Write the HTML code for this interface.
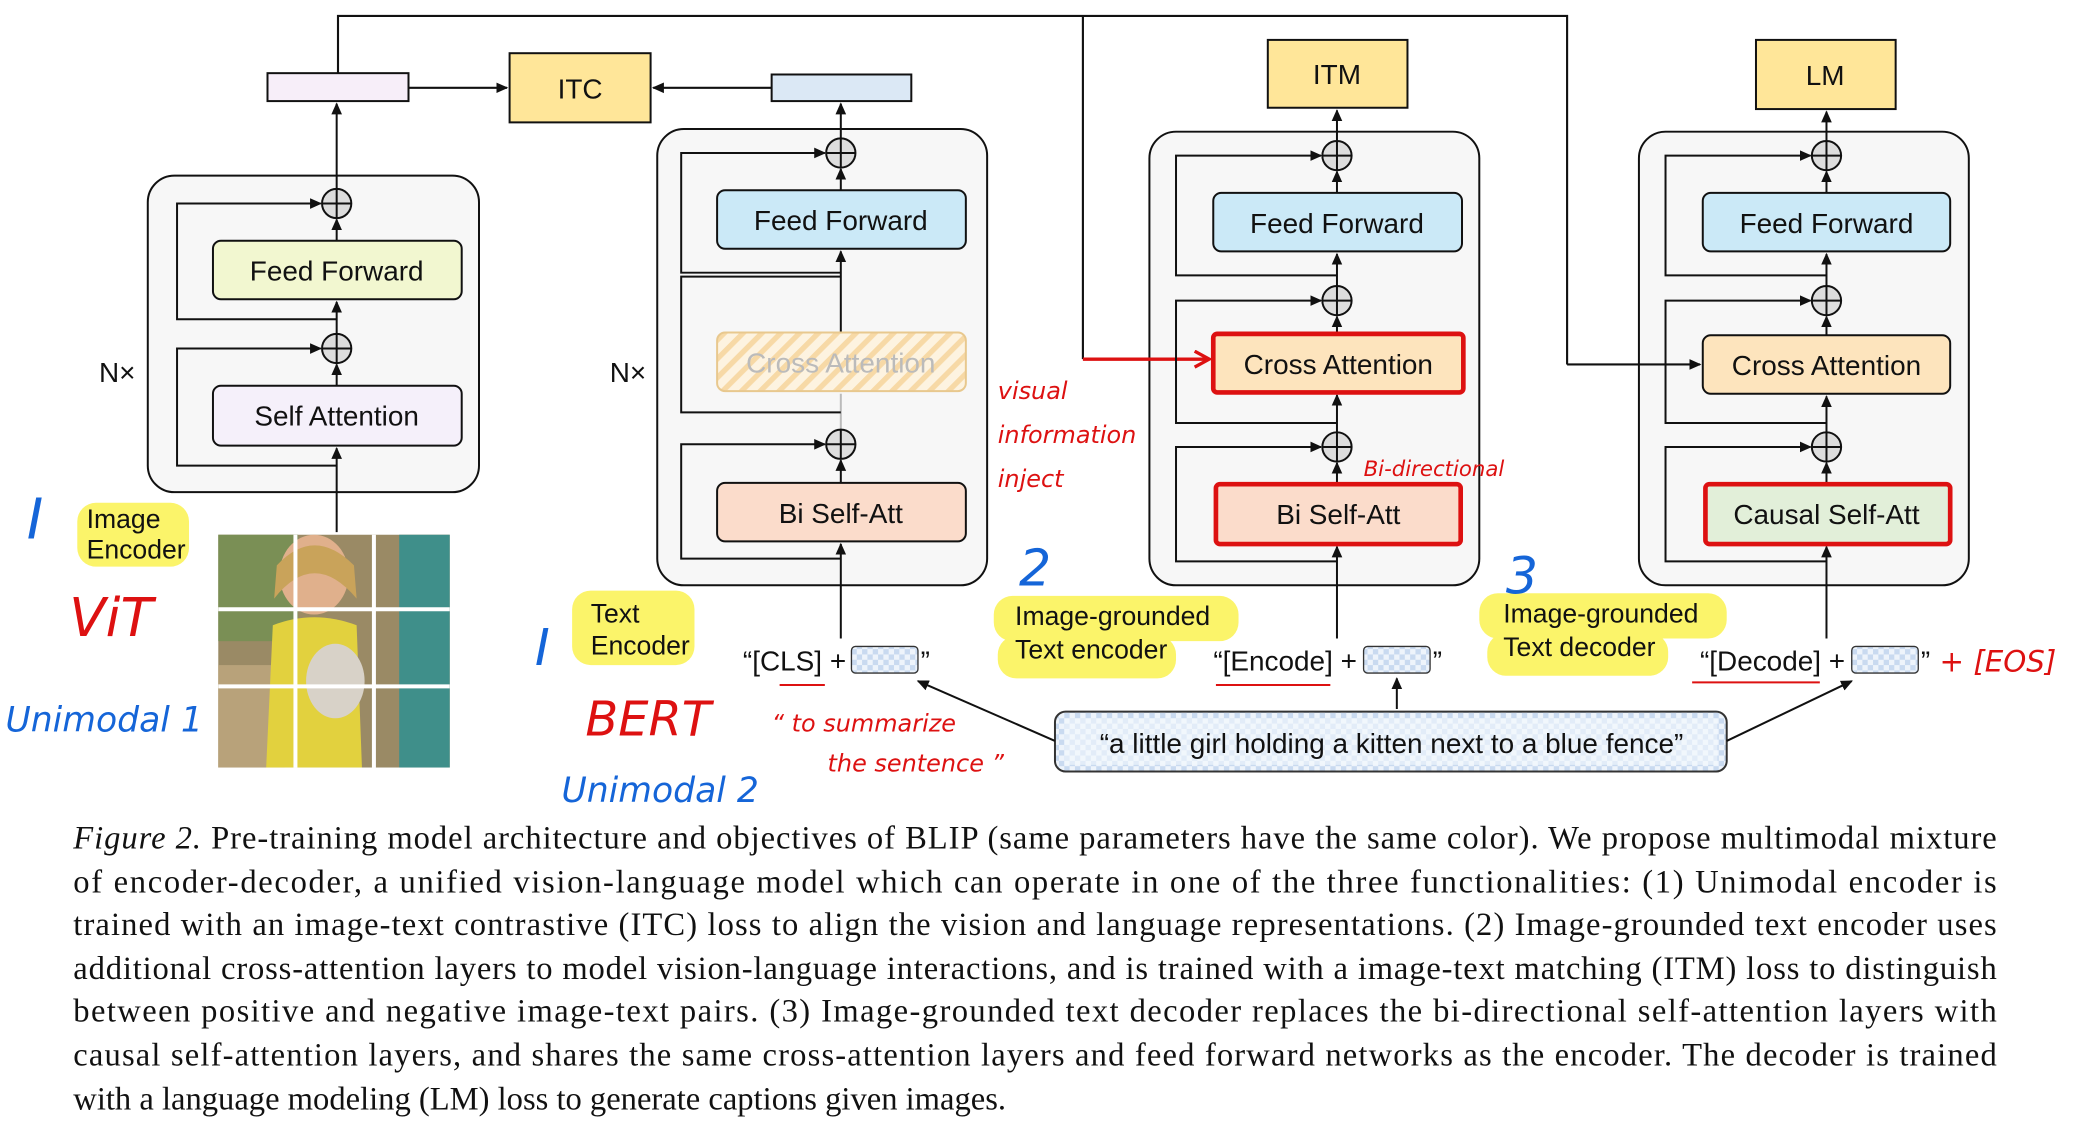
<!DOCTYPE html>
<html><head><meta charset="utf-8"><style>
html,body{margin:0;padding:0;background:#fff;}
svg{display:block;}
.bx{font-family:"Liberation Sans",sans-serif;font-size:21px;fill:#111;text-anchor:middle;}
.cap{font-family:"Liberation Serif",serif;font-size:24.5px;fill:#111;}
.hl{font-family:"Liberation Sans",sans-serif;font-size:20px;fill:#111;}
.red{font-family:"DejaVu Sans",sans-serif;font-style:italic;fill:#d11;}
.blue{font-family:"DejaVu Sans",sans-serif;font-style:italic;fill:#1565d8;}
</style></head><body>
<svg width="2086" height="1128" viewBox="0 0 1568 848" xmlns="http://www.w3.org/2000/svg">
<defs>
<marker id="a" markerWidth="10" markerHeight="10" refX="8" refY="5" orient="auto" markerUnits="userSpaceOnUse"><path d="M0,1 L9,5 L0,9 z" fill="#111"/></marker>
<marker id="ar" markerWidth="14" markerHeight="14" refX="11" refY="7" orient="auto" markerUnits="userSpaceOnUse"><path d="M1,1 L12,7 L1,13" fill="none" stroke="#d11" stroke-width="2.5"/></marker>
<pattern id="hatch" width="10" height="10" patternUnits="userSpaceOnUse" patternTransform="rotate(45)"><rect width="10" height="10" fill="#fdf3e0"/><rect width="4" height="10" fill="#f7d9a6"/></pattern>
<pattern id="chk" width="8" height="8" patternUnits="userSpaceOnUse"><rect width="8" height="8" fill="#eef4fb"/><rect width="4" height="4" fill="#c9daf0"/><rect x="4" y="4" width="4" height="4" fill="#c9daf0"/></pattern>
</defs>
<rect width="1568" height="848" fill="#fff"/>

<g stroke="#111" stroke-width="1.6" fill="none">
<path d="M254,55 V12 H1178 V274"/>
<path d="M814,12 V270"/>
<path d="M307,66 H381" marker-end="url(#a)"/>
<path d="M580,66 H491" marker-end="url(#a)"/>
</g>

<rect x="201" y="55" width="106" height="21" fill="#f7eef9" stroke="#111" stroke-width="1.5"/>
<rect x="580" y="56" width="105" height="20" fill="#dbe8f5" stroke="#111" stroke-width="1.5"/>
<rect x="383" y="40" width="106" height="52" fill="#ffe699" stroke="#111" stroke-width="1.5"/>
<text class="bx" x="436" y="74">ITC</text>
<rect x="953" y="30" width="105" height="51" fill="#ffe699" stroke="#111" stroke-width="1.5"/>
<text class="bx" x="1005" y="63">ITM</text>
<rect x="1320" y="30" width="105" height="52" fill="#ffe699" stroke="#111" stroke-width="1.5"/>
<text class="bx" x="1372" y="64">LM</text>

<g fill="#f7f7f7" stroke="#111" stroke-width="1.5">
<rect x="111" y="132" width="249" height="238" rx="20"/>
<rect x="494" y="97" width="248" height="343" rx="20"/>
<rect x="864" y="99" width="248" height="341" rx="20"/>
<rect x="1232" y="99" width="248" height="341" rx="20"/>
</g>
<path d="M1178,274 H1278" stroke="#111" stroke-width="1.6" fill="none" marker-end="url(#a)"/>
<path d="M814,270 H908" stroke="#d11" stroke-width="2.5" fill="none" marker-end="url(#ar)"/>
<text class="bx" x="88" y="287">N×</text>
<text class="bx" x="472" y="287">N×</text>

<g stroke="#111" stroke-width="1.5" fill="none">
<path d="M253,400 V337" marker-end="url(#a)"/>
<path d="M253,290 V274" marker-end="url(#a)"/>
<path d="M253,251 V227" marker-end="url(#a)"/>
<path d="M253,181 V165" marker-end="url(#a)"/>
<path d="M253,142 V78" marker-end="url(#a)"/>
<path d="M253,350 H133 V262 H241" marker-end="url(#a)"/>
<path d="M253,240 H133 V153 H241" marker-end="url(#a)"/>
</g>
<rect x="160" y="181" width="187" height="44" rx="6" fill="#f2f7d0" stroke="#111" stroke-width="1.5"/>
<text class="bx" x="253" y="211">Feed Forward</text>
<rect x="160" y="290" width="187" height="45" rx="6" fill="#f5f0fa" stroke="#111" stroke-width="1.5"/>
<text class="bx" x="253" y="320">Self Attention</text>

<g stroke="#111" stroke-width="1.5" fill="none">
<path d="M632,480 V409" marker-end="url(#a)"/>
<path d="M632,363 V346" marker-end="url(#a)"/>
<path d="M632,323 V296" stroke="#bbb"/>
<path d="M632,250 V189" marker-end="url(#a)"/>
<path d="M632,143 V127" marker-end="url(#a)"/>
<path d="M632,104 V78" marker-end="url(#a)"/>
<path d="M632,420 H512 V334 H620" marker-end="url(#a)"/>
<path d="M632,310 H512 V208 H632" />
<path d="M632,205 H512 V115 H620" marker-end="url(#a)"/>
</g>
<rect x="539" y="143" width="187" height="44" rx="6" fill="#cbe9f7" stroke="#111" stroke-width="1.5"/>
<text class="bx" x="632" y="173">Feed Forward</text>
<rect x="539" y="250" width="187" height="44" rx="6" fill="url(#hatch)" stroke="#e8c88e" stroke-width="1.5"/>
<text class="bx" x="632" y="280" style="fill:#bbb">Cross Attention</text>
<rect x="539" y="363" width="187" height="44" rx="6" fill="#fbdccb" stroke="#111" stroke-width="1.5"/>
<text class="bx" x="632" y="393">Bi Self-Att</text>

<g stroke="#111" stroke-width="1.5" fill="none">
<path d="M1005,480 V411" marker-end="url(#a)"/>
<path d="M1005,364 V348" marker-end="url(#a)"/>
<path d="M1005,325 V297" marker-end="url(#a)"/>
<path d="M1005,251 V238" marker-end="url(#a)"/>
<path d="M1005,215 V191" marker-end="url(#a)"/>
<path d="M1005,145 V129" marker-end="url(#a)"/>
<path d="M1005,106 V83" marker-end="url(#a)"/>
<path d="M1005,422 H884 V336 H993" marker-end="url(#a)"/>
<path d="M1005,318 H884 V226 H993" marker-end="url(#a)"/>
<path d="M1005,207 H884 V117 H993" marker-end="url(#a)"/>
</g>
<rect x="912" y="145" width="187" height="44" rx="6" fill="#cbe9f7" stroke="#111" stroke-width="1.5"/>
<text class="bx" x="1005" y="175">Feed Forward</text>
<rect x="912" y="251" width="188" height="44" rx="3" fill="#fde4bd" stroke="#d11" stroke-width="3.5"/>
<text class="bx" x="1006" y="281">Cross Attention</text>
<rect x="914" y="364" width="184" height="45" rx="3" fill="#fbdccb" stroke="#d11" stroke-width="3.5"/>
<text class="bx" x="1006" y="394">Bi Self-Att</text>

<g stroke="#111" stroke-width="1.5" fill="none">
<path d="M1373,480 V411" marker-end="url(#a)"/>
<path d="M1373,364 V348" marker-end="url(#a)"/>
<path d="M1373,325 V298" marker-end="url(#a)"/>
<path d="M1373,252 V238" marker-end="url(#a)"/>
<path d="M1373,215 V191" marker-end="url(#a)"/>
<path d="M1373,145 V129" marker-end="url(#a)"/>
<path d="M1373,106 V84" marker-end="url(#a)"/>
<path d="M1373,422 H1252 V336 H1361" marker-end="url(#a)"/>
<path d="M1373,318 H1252 V226 H1361" marker-end="url(#a)"/>
<path d="M1373,207 H1252 V117 H1361" marker-end="url(#a)"/>
</g>
<rect x="1280" y="145" width="186" height="44" rx="6" fill="#cbe9f7" stroke="#111" stroke-width="1.5"/>
<text class="bx" x="1373" y="175">Feed Forward</text>
<rect x="1280" y="252" width="186" height="44" rx="6" fill="#fde4bd" stroke="#111" stroke-width="1.5"/>
<text class="bx" x="1373" y="282">Cross Attention</text>
<rect x="1282" y="364" width="184" height="45" rx="3" fill="#e2efd9" stroke="#d11" stroke-width="3.5"/>
<text class="bx" x="1373" y="394">Causal Self-Att</text>

<g fill="#ddd" stroke="#111" stroke-width="1.5">
<circle cx="253" cy="153" r="11"/><circle cx="253" cy="262" r="11"/>
<circle cx="632" cy="115" r="11"/><circle cx="632" cy="334" r="11"/>
<circle cx="1005" cy="117" r="11"/><circle cx="1005" cy="226" r="11"/><circle cx="1005" cy="336" r="11"/>
<circle cx="1373" cy="117" r="11"/><circle cx="1373" cy="226" r="11"/><circle cx="1373" cy="336" r="11"/>
</g>
<g stroke="#111" stroke-width="1.5">
<path d="M242,153h22M253,142v22M242,262h22M253,251v22"/>
<path d="M621,115h22M632,104v22M621,334h22M632,323v22"/>
<path d="M994,117h22M1005,106v22M994,226h22M1005,215v22M994,336h22M1005,325v22"/>
<path d="M1362,117h22M1373,106v22M1362,226h22M1373,215v22M1362,336h22M1373,325v22"/>
</g>

<g>
<rect x="164" y="402" width="174" height="175" fill="#9a8a65"/>
<rect x="164" y="402" width="60" height="80" fill="#7a8f55"/>
<rect x="300" y="402" width="38" height="175" fill="#3f8f8a"/>
<rect x="164" y="500" width="50" height="77" fill="#b8a27a"/>
<ellipse cx="236" cy="432" rx="26" ry="30" fill="#e0b08c"/>
<path d="M208,425 Q236,395 266,425 L268,450 Q236,412 206,450z" fill="#c9a35a"/>
<path d="M205,470 Q236,458 268,470 L272,577 L200,577z" fill="#e2d13e"/>
<ellipse cx="252" cy="512" rx="22" ry="28" fill="#d8d2c8"/>
<g stroke="#fff" stroke-width="3"><path d="M164,458H338M164,516H338M222,402V577M281,402V577"/></g>
</g>

<g fill="#fbf35a" opacity="0.9">
<rect x="58" y="378" width="84" height="48" rx="14"/>
<rect x="430" y="444" width="92" height="56" rx="14"/>
<rect x="747" y="448" width="184" height="34" rx="14"/>
<rect x="750" y="478" width="134" height="32" rx="14"/>
<rect x="1112" y="446" width="186" height="34" rx="14"/>
<rect x="1118" y="476" width="136" height="32" rx="14"/>
</g>
<text class="hl" x="65" y="397">Image</text>
<text class="hl" x="65" y="420">Encoder</text>
<text class="hl" x="444" y="468">Text</text>
<text class="hl" x="444" y="492">Encoder</text>
<text class="hl" x="763" y="470">Image-grounded</text>
<text class="hl" x="763" y="495">Text encoder</text>
<text class="hl" x="1130" y="468">Image-grounded</text>
<text class="hl" x="1130" y="493">Text decoder</text>

<text class="bx" x="636" y="504" style="text-anchor:end">“[CLS] +</text>
<rect x="640" y="486" width="50" height="20" rx="3" fill="url(#chk)" stroke="#333"/>
<text class="bx" x="692" y="504" style="text-anchor:start">”</text>
<path d="M586,515 H620" stroke="#d11" stroke-width="1.5"/>
<text class="bx" x="1020" y="504" style="text-anchor:end">“[Encode] +</text>
<rect x="1025" y="486" width="50" height="20" rx="3" fill="url(#chk)" stroke="#333"/>
<text class="bx" x="1077" y="504" style="text-anchor:start">”</text>
<path d="M914,515 H1000" stroke="#d11" stroke-width="1.5"/>
<text class="bx" x="1387" y="504" style="text-anchor:end">“[Decode] +</text>
<rect x="1392" y="486" width="50" height="20" rx="3" fill="url(#chk)" stroke="#333"/>
<text class="bx" x="1444" y="504" style="text-anchor:start">”</text>
<path d="M1272,513 H1368" stroke="#d11" stroke-width="1.5"/>

<rect x="793" y="535" width="505" height="45" rx="8" fill="url(#chk)" stroke="#333" stroke-width="1.5"/>
<rect x="800" y="540" width="491" height="35" fill="#f4f8fd" opacity="0.6"/>
<text class="bx" x="1046" y="566">“a little girl holding a kitten next to a blue fence”</text>
<g stroke="#111" stroke-width="1.5" fill="none">
<path d="M793,557 L690,512" marker-end="url(#a)"/>
<path d="M1050,533 V510" marker-end="url(#a)"/>
<path d="M1298,557 L1392,512" marker-end="url(#a)"/>
</g>

<text class="blue" x="20" y="405" font-size="42">I</text>
<text class="red" x="52" y="478" font-size="40">ViT</text>
<text class="blue" x="4" y="550" font-size="26">Unimodal 1</text>
<text class="blue" x="402" y="500" font-size="38">I</text>
<text class="red" x="440" y="553" font-size="36">BERT</text>
<text class="blue" x="422" y="603" font-size="26">Unimodal 2</text>
<text class="red" x="580" y="550" font-size="18">“ to summarize</text>
<text class="red" x="622" y="580" font-size="18">the sentence ”</text>
<text class="red" x="750" y="300" font-size="18">visual</text>
<text class="red" x="750" y="333" font-size="18">information</text>
<text class="red" x="750" y="366" font-size="18">inject</text>
<text class="red" x="1025" y="358" font-size="16">Bi-directional</text>
<text class="blue" x="766" y="440" font-size="38">2</text>
<text class="blue" x="1132" y="446" font-size="38">3</text>
<text class="red" x="1458" y="505" font-size="22">+ [EOS]</text>

<g class="cap">
<text x="55" y="638" textLength="1446" lengthAdjust="spacing"><tspan font-style="italic">Figure 2.</tspan> Pre-training model architecture and objectives of BLIP (same parameters have the same color). We propose multimodal mixture</text>
<text x="55" y="671" textLength="1446" lengthAdjust="spacing">of encoder-decoder, a unified vision-language model which can operate in one of the three functionalities: (1) Unimodal encoder is</text>
<text x="55" y="703" textLength="1446" lengthAdjust="spacing">trained with an image-text contrastive (ITC) loss to align the vision and language representations. (2) Image-grounded text encoder uses</text>
<text x="55" y="736" textLength="1446" lengthAdjust="spacing">additional cross-attention layers to model vision-language interactions, and is trained with a image-text matching (ITM) loss to distinguish</text>
<text x="55" y="768" textLength="1446" lengthAdjust="spacing">between positive and negative image-text pairs. (3) Image-grounded text decoder replaces the bi-directional self-attention layers with</text>
<text x="55" y="801" textLength="1446" lengthAdjust="spacing">causal self-attention layers, and shares the same cross-attention layers and feed forward networks as the encoder. The decoder is trained</text>
<text x="55" y="834">with a language modeling (LM) loss to generate captions given images.</text>
</g>
</svg>
</body></html>
